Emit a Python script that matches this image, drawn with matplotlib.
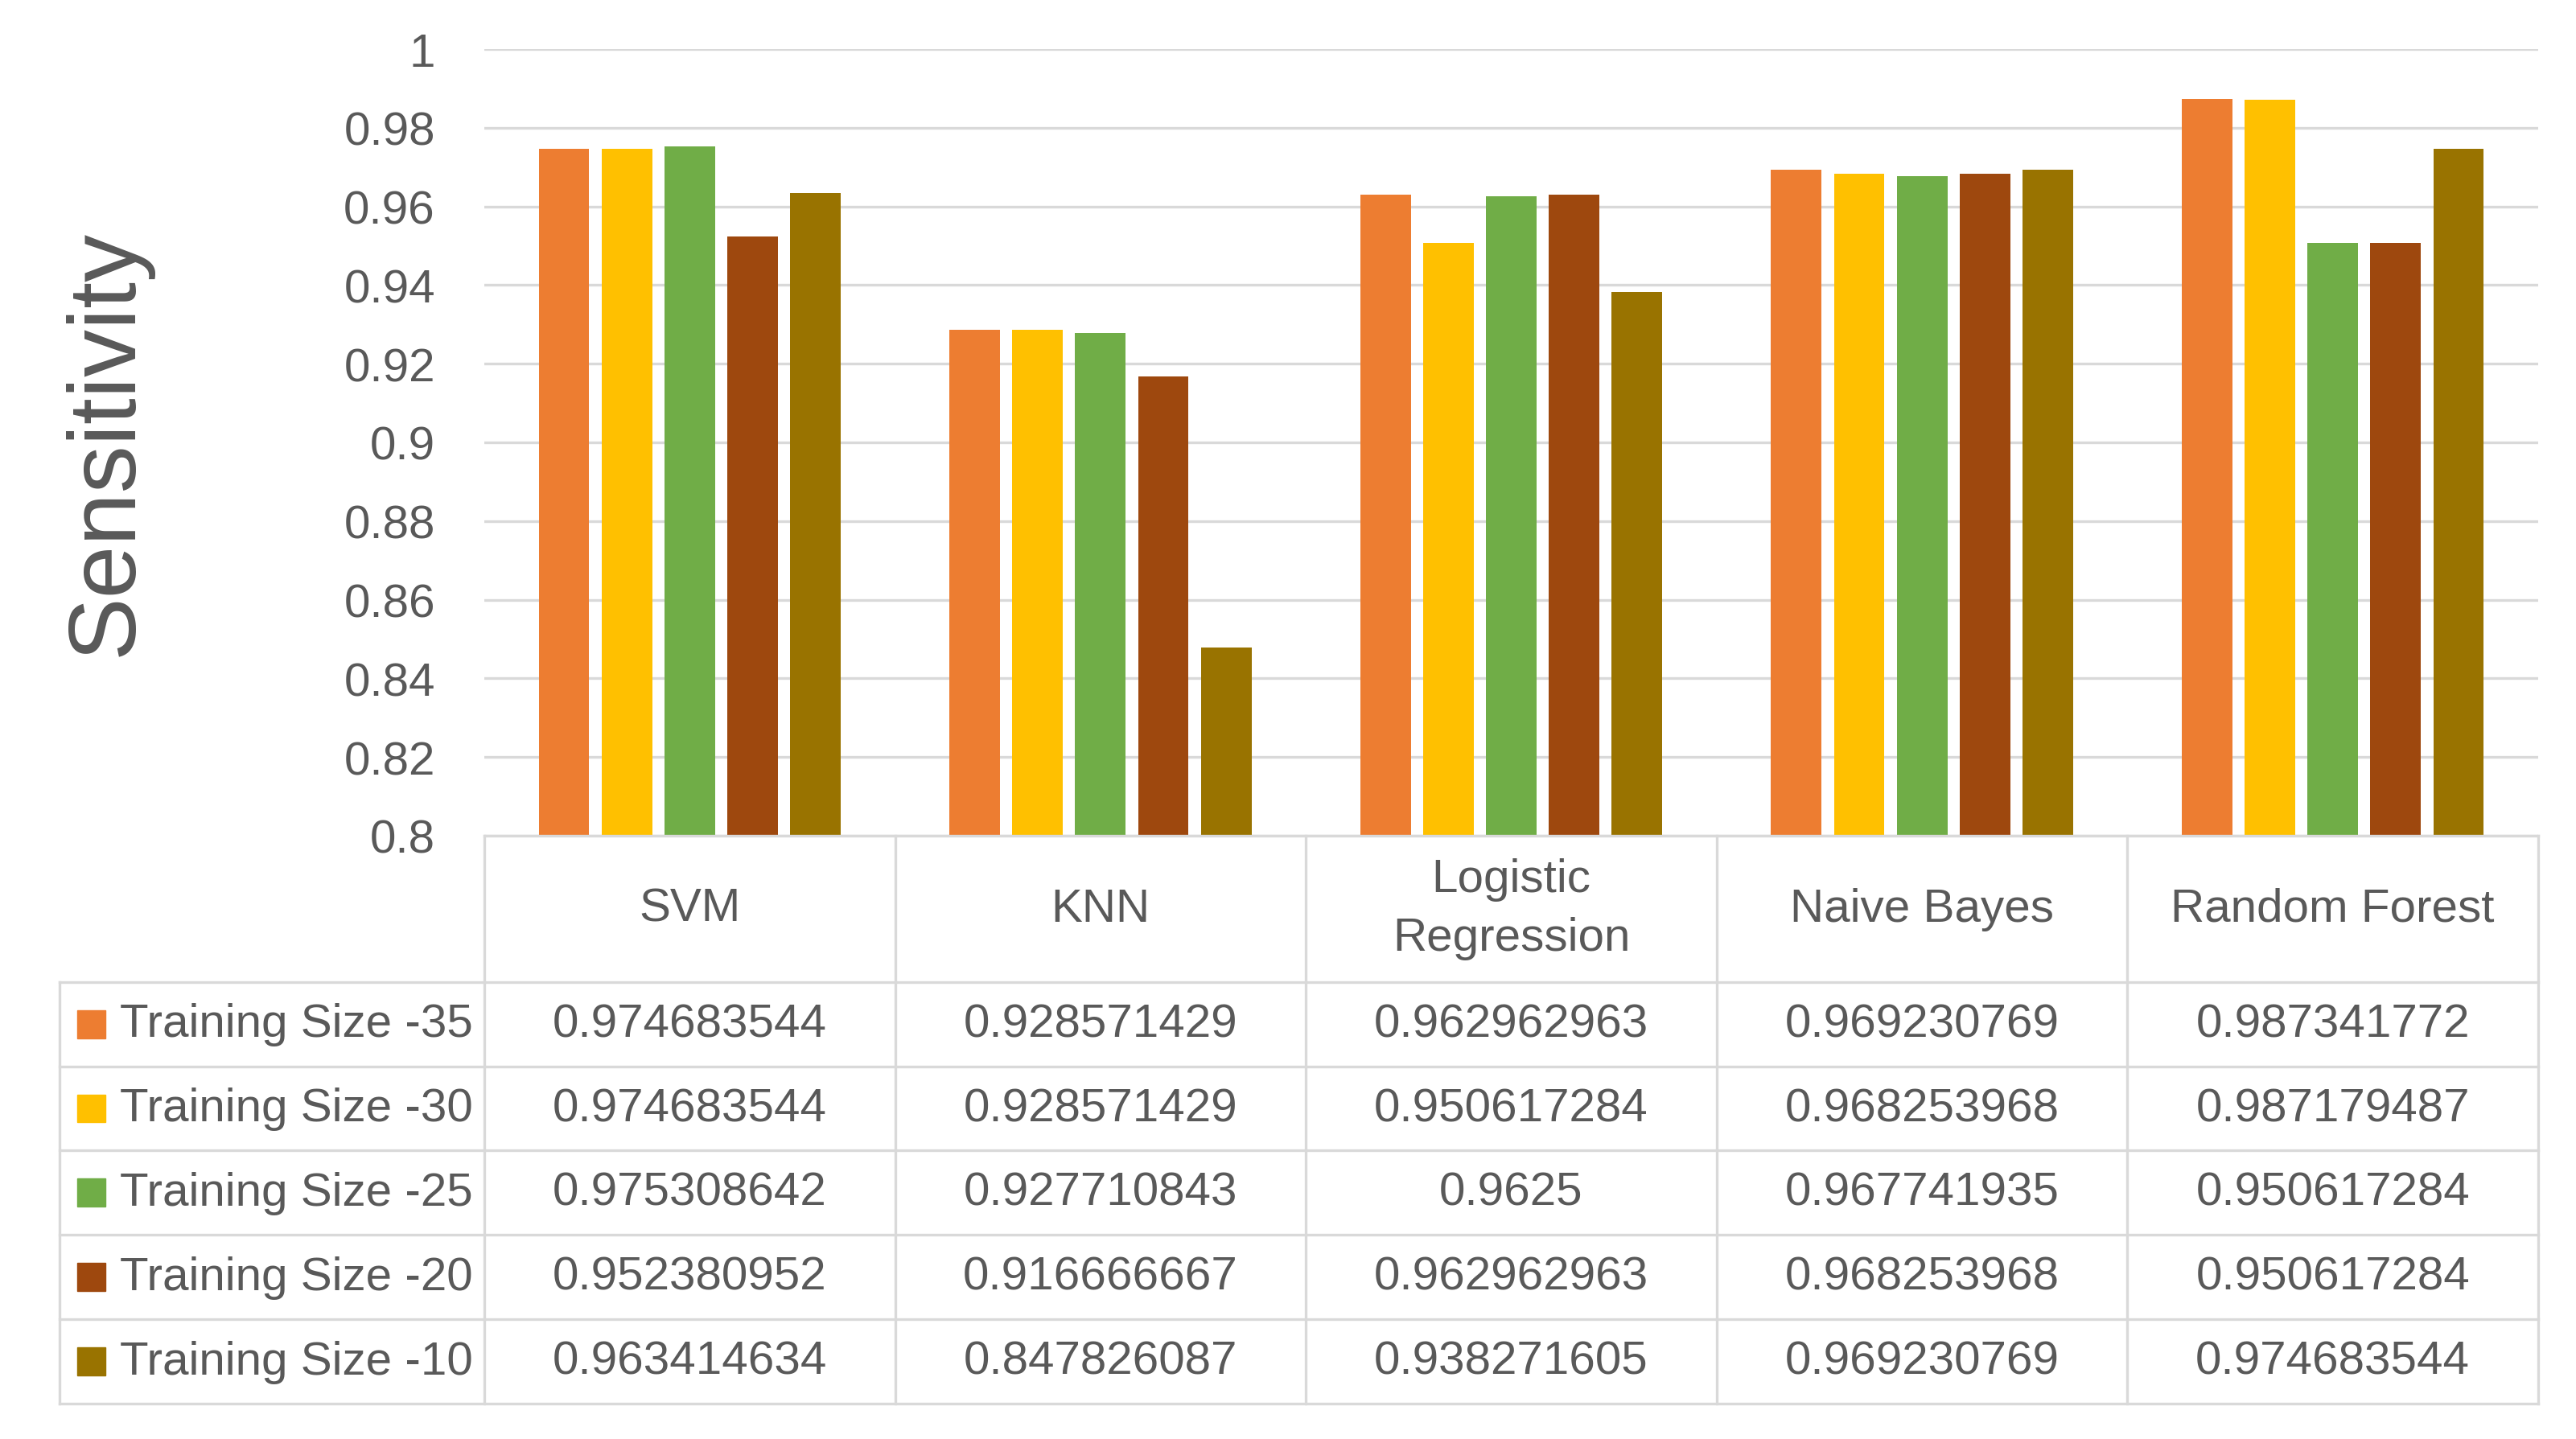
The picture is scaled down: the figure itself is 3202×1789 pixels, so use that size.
import matplotlib
matplotlib.use("Agg")
import matplotlib.pyplot as plt
from matplotlib.patches import Rectangle

# data
models = ["SVM", "KNN", "Logistic\nRegression", "Naive Bayes", "Random Forest"]
series = ["Training Size -35", "Training Size -30", "Training Size -25",
          "Training Size -20", "Training Size -10"]
size_35 = [0.974683544, 0.928571429, 0.962962963, 0.969230769, 0.987341772]
size_30 = [0.974683544, 0.928571429, 0.950617284, 0.968253968, 0.987179487]
size_25 = [0.975308642, 0.927710843, 0.9625, 0.967741935, 0.950617284]
size_20 = [0.952380952, 0.916666667, 0.962962963, 0.968253968, 0.950617284]
size_10 = [0.963414634, 0.847826087, 0.938271605, 0.969230769, 0.974683544]
values = [size_35, size_30, size_25, size_20, size_10]

yticks = [0.8, 0.82, 0.84, 0.86, 0.88, 0.9, 0.92, 0.94, 0.96, 0.98, 1.0]
ytick_labels = ["0.8", "0.82", "0.84", "0.86", "0.88", "0.9", "0.92", "0.94",
                "0.96", "0.98", "1"]

colors = ["#ED7D31", "#FFC000", "#70AD47", "#9E480E", "#997300"]
txt = "#595959"
grid = "#d9d9d9"

plt.rcParams["font.family"] = ["Liberation Sans", "DejaVu Sans"]
fs = 42

W, H = 3202, 1790
fig = plt.figure(figsize=(W / 100, H / 100), dpi=100)

# bar chart area (pixel layout of the reference)
left, right, top, bottom = 602, 3155, 62, 1040
ax = fig.add_axes([left / W, 1 - bottom / H, (right - left) / W, (bottom - top) / H])

bw = 0.123
step = 0.153
for k in range(len(series)):
    xs = [i + (k - 2) * step for i in range(len(models))]
    ax.bar(xs, values[k], width=bw, color=colors[k], zorder=3)

ax.set_xlim(-0.5, 4.5)
ax.set_ylim(0.8, 1.0)
ax.set_yticks(yticks)
ax.set_yticklabels(ytick_labels)
ax.set_xticks([])
ax.tick_params(axis="y", length=0, pad=44, labelsize=fs, labelcolor=txt)
ax.grid(axis="y", color=grid, linewidth=2.4, zorder=0)
for s in ax.spines.values():
    s.set_visible(False)

fig.text(133 / W, 1 - 551 / H, "Sensitivity", rotation=90, fontsize=85,
         color=txt, ha="center", va="center")

# data table under the chart
t_left, t_bottom = 74, 1746
tax = fig.add_axes([t_left / W, 1 - t_bottom / H, (right - t_left) / W, (t_bottom - bottom) / H])
colw = (right - left) / 5
x0 = -0.5 - (left - t_left) / colw
head_h = 182
row_h = 105
tax.set_xlim(x0, 4.5)
tax.set_ylim(head_h + row_h * len(series), 0)
tax.axis("off")

lw = 2.4
tax.plot([-0.5, 4.5], [0, 0], color=grid, lw=lw, clip_on=False)
for r in range(len(series) + 1):
    y = head_h + r * row_h
    tax.plot([x0, 4.5], [y, y], color=grid, lw=lw, clip_on=False)
tax.plot([x0, x0], [head_h, head_h + row_h * len(series)], color=grid, lw=lw, clip_on=False)
for i in range(len(models) + 1):
    tax.plot([i - 0.5, i - 0.5], [0, head_h + row_h * len(series)], color=grid, lw=lw,
             clip_on=False)

for i, m in enumerate(models):
    tax.text(i, head_h / 2, m, ha="center", va="center", fontsize=fs, color=txt,
             linespacing=1.45)

sq = 35 / colw
for k, name in enumerate(series):
    yc = head_h + row_h * (k + 0.5)
    tax.add_patch(Rectangle((x0 + 22 / colw, yc - 17.5), sq, 35, color=colors[k],
                            clip_on=False))
    tax.text(x0 + 75 / colw, yc, name, ha="left", va="center", fontsize=fs, color=txt)
    for i in range(len(models)):
        tax.text(i, yc, f"{values[k][i]:.10g}", ha="center", va="center",
                 fontsize=fs, color=txt)

fig.savefig("out.png", dpi=100, facecolor="white")
